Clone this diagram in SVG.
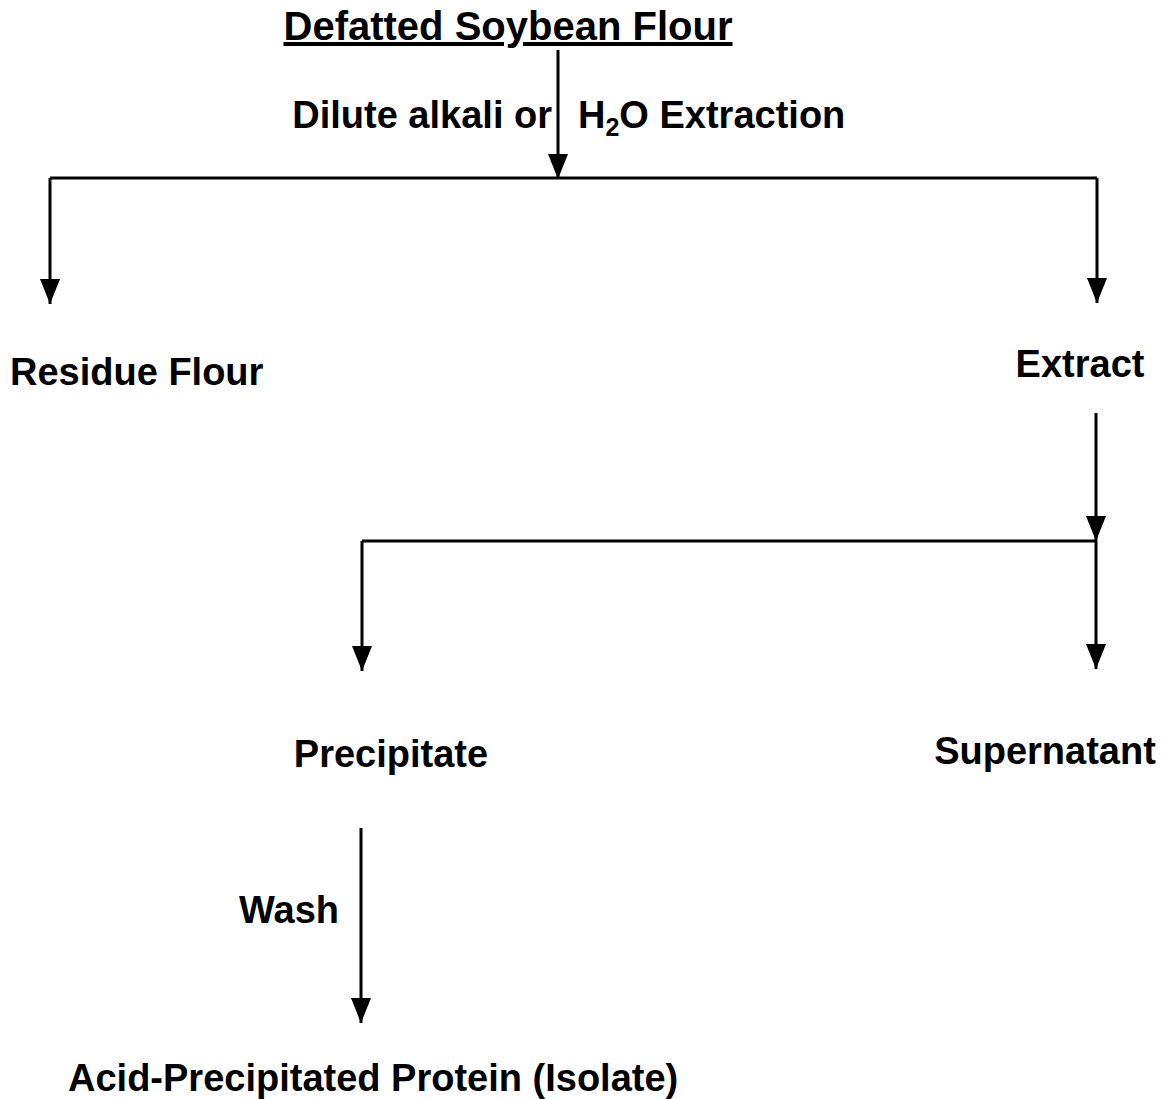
<svg xmlns="http://www.w3.org/2000/svg" width="1164" height="1099" viewBox="0 0 1164 1099">
<style>
text{font-family:"Liberation Sans",Arial,sans-serif;font-weight:bold;font-size:38px;fill:#000}
.title{font-size:40px;text-decoration:underline}
.c{stroke:#000;stroke-width:3;fill:none}
</style>
<defs>
<marker id="ah" viewBox="0 0 25 20" refX="25" refY="10" markerWidth="25" markerHeight="20" markerUnits="userSpaceOnUse" orient="auto">
<path d="M0,0 L25,10 L0,20 z" fill="#000"/>
</marker>
</defs>
<rect width="1164" height="1099" fill="#fff"/>
<g id="connectors">
<line class="c" x1="558" y1="50" x2="558" y2="179" marker-end="url(#ah)"/>
<line class="c" x1="50" y1="178" x2="1097" y2="178"/>
<line class="c" x1="50" y1="178" x2="50" y2="304" marker-end="url(#ah)"/>
<line class="c" x1="1097" y1="178" x2="1097" y2="303" marker-end="url(#ah)"/>
<line class="c" x1="1096" y1="413" x2="1096" y2="541" marker-end="url(#ah)"/>
<line class="c" x1="362" y1="541" x2="1096" y2="541"/>
<line class="c" x1="1096" y1="541" x2="1096" y2="669" marker-end="url(#ah)"/>
<line class="c" x1="362" y1="541" x2="362" y2="671" marker-end="url(#ah)"/>
<line class="c" x1="361" y1="828" x2="361" y2="1023" marker-end="url(#ah)"/>
</g>
<g id="label-extraction">
<text x="552" y="128" text-anchor="end">Dilute alkali or</text>
<text x="578" y="128">H<tspan font-size="25" dy="8">2</tspan><tspan dy="-8">O Extraction</tspan></text>
</g>
<g id="label-wash"><text x="339" y="923" text-anchor="end">Wash</text></g>
<g id="node-defatted"><text class="title" x="508" y="40" text-anchor="middle">Defatted Soybean Flour</text></g>
<g id="node-residue"><text x="10" y="385">Residue Flour</text></g>
<g id="node-extract"><text x="1080" y="377" text-anchor="middle">Extract</text></g>
<g id="node-precipitate"><text x="391" y="767" text-anchor="middle">Precipitate</text></g>
<g id="node-supernatant"><text x="1045" y="764" text-anchor="middle">Supernatant</text></g>
<g id="node-isolate"><text x="68" y="1091">Acid-Precipitated Protein (Isolate)</text></g>
</svg>
